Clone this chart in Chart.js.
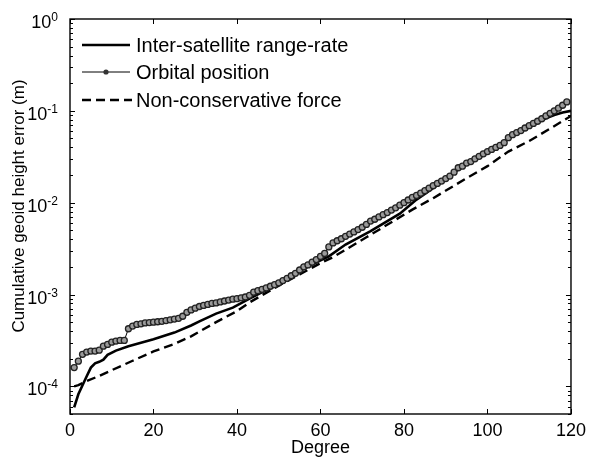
<!DOCTYPE html>
<html>
<head>
<meta charset="utf-8">
<script src="https://cdn.jsdelivr.net/npm/chart.js@4.4.1/dist/chart.umd.min.js"></script>
<style>
html, body { margin: 0; padding: 0; background: #fff; }
</style>
</head>
<body>
<canvas id="chart1" width="592" height="459"></canvas>
<script>
// orbital position, one value per degree starting at 1
var orbitValues = [
    1.6e-4, 1.88e-4, 2.23e-4, 2.36e-4, 2.42e-4, 2.42e-4, 2.48e-4, 2.74e-4, 2.86e-4, 3.03e-4,
    3.11e-4, 3.16e-4, 3.16e-4, 4.24e-4, 4.53e-4, 4.72e-4, 4.8e-4, 4.9e-4, 4.95e-4, 5.0e-4,
    5.05e-4, 5.1e-4, 5.2e-4, 5.3e-4, 5.4e-4, 5.5e-4, 5.8e-4, 6.4e-4, 6.8e-4, 7.1e-4,
    7.4e-4, 7.6e-4, 7.8e-4, 8.0e-4, 8.1e-4, 8.3e-4, 8.5e-4, 8.7e-4, 8.9e-4, 9.0e-4,
    9.2e-4, 9.4e-4, 9.8e-4, 1.06e-3, 1.1e-3, 1.14e-3, 1.18e-3, 1.23e-3, 1.28e-3, 1.34e-3,
    1.42e-3, 1.5e-3, 1.6e-3, 1.7e-3, 1.85e-3, 2.0e-3, 2.1e-3, 2.25e-3, 2.4e-3, 2.6e-3,
    2.8e-3, 3.3e-3, 3.65e-3, 3.85e-3, 4.05e-3, 4.3e-3, 4.55e-3, 4.8e-3, 5.1e-3, 5.4e-3,
    5.8e-3, 6.3e-3, 6.6e-3, 7.0e-3, 7.4e-3, 7.8e-3, 8.3e-3, 8.8e-3, 9.4e-3, 1.0e-2,
    1.07e-2, 1.14e-2, 1.2e-2, 1.27e-2, 1.35e-2, 1.44e-2, 1.53e-2, 1.62e-2, 1.72e-2, 1.83e-2,
    1.95e-2, 2.15e-2, 2.4e-2, 2.5e-2, 2.7e-2, 2.8e-2, 3.0e-2, 3.2e-2, 3.4e-2, 3.6e-2,
    3.8e-2, 4.0e-2, 4.2e-2, 4.5e-2, 5.1e-2, 5.5e-2, 5.8e-2, 6.1e-2, 6.5e-2, 6.9e-2,
    7.3e-2, 7.7e-2, 8.2e-2, 8.8e-2, 9.4e-2, 0.1, 0.107, 0.115, 0.125
];

var rangeRateDeg = [1, 2, 3, 4, 5, 6, 7, 8, 9, 11, 14, 20, 25, 29, 31, 35, 39, 43, 47, 50,
    55, 60, 62, 66, 72, 79, 83, 88, 93, 100, 106, 110, 114, 116, 118, 120];
var rangeRateValues = [5.9e-5, 8.2e-5, 1.03e-4, 1.29e-4, 1.6e-4, 1.78e-4, 1.85e-4, 1.95e-4, 2.2e-4, 2.45e-4,
    2.74e-4, 3.25e-4, 3.85e-4, 4.6e-4, 5.1e-4, 6.2e-4, 7.2e-4, 9.0e-4, 1.12e-3, 1.3e-3,
    1.8e-3, 2.35e-3, 2.6e-3, 3.5e-3, 4.9e-3, 7.6e-3, 1.08e-2, 1.55e-2, 2.3e-2, 3.5e-2,
    5.3e-2, 6.8e-2, 8.3e-2, 9.0e-2, 9.6e-2, 0.1];

var forceDeg = [1, 2, 4, 7, 10, 15, 20, 25, 29, 35, 40, 43, 50, 55, 60, 63, 71, 82, 87, 95,
    100, 105, 110, 115, 120];
var forceValues = [1.0e-4, 1.03e-4, 1.14e-4, 1.3e-4, 1.5e-4, 1.9e-4, 2.4e-4, 2.9e-4, 3.5e-4, 5.0e-4,
    6.6e-4, 8.2e-4, 1.25e-3, 1.65e-3, 2.2e-3, 2.55e-3, 4.2e-3, 8.4e-3, 1.12e-2, 1.85e-2,
    2.5e-2, 3.6e-2, 4.7e-2, 6.4e-2, 8.8e-2];

var seriesNames = ["Inter-satellite range-rate", "Orbital position", "Non-conservative force"];
var xTicks = [0, 20, 40, 60, 80, 100, 120];
var yExponents = [0, -1, -2, -3, -4];
var xTitle = "Degree";
var yTitle = "Cumulative geoid height error (m)";

var FONT = "'Liberation Sans', Arial, Helvetica, sans-serif";

function toPoints(xs, ys){
    var pts = new Array();
    for (var i = 0; i < ys.length; i++){
        pts.push({x: xs[i], y: ys[i]});
    }
    return pts;
}

var orbitDeg = new Array();
for (var i = 0; i < orbitValues.length; i++){
    orbitDeg.push(i + 1);
}

// MATLAB look: boxed axes, inward ticks, superscript log labels, plain legend
var matlabAxes = {
    id: 'matlabAxes',
    afterDraw: function(chart){
        var ctx = chart.ctx;
        var a = chart.chartArea;
        var xs = chart.scales.x;
        var ys = chart.scales.y;
        ctx.save();

        ctx.strokeStyle = '#000';
        ctx.lineWidth = 1;
        ctx.beginPath();
        for (var i = 0; i < xTicks.length; i++){
            var px = Math.round(xs.getPixelForValue(xTicks[i])) + 0.5;
            ctx.moveTo(px, a.bottom); ctx.lineTo(px, a.bottom - 5);
            ctx.moveTo(px, a.top); ctx.lineTo(px, a.top + 5);
        }
        for (var d = -5; d <= 0; d++){
            for (var k = 1; k <= 9; k++){
                var v = k * Math.pow(10, d);
                if (v < ys.min * 0.999 || v > ys.max * 1.001) continue;
                var len = (k == 1) ? 5 : 3;
                var py = Math.round(ys.getPixelForValue(v)) + 0.5;
                ctx.moveTo(a.left, py); ctx.lineTo(a.left + len, py);
                ctx.moveTo(a.right, py); ctx.lineTo(a.right - len, py);
            }
        }
        ctx.stroke();

        ctx.lineWidth = 1.4;
        ctx.strokeRect(a.left, a.top, a.right - a.left, a.bottom - a.top);

        // y tick labels 10^n
        ctx.fillStyle = '#000';
        ctx.textBaseline = 'alphabetic';
        for (var j = 0; j < yExponents.length; j++){
            var yp = ys.getPixelForValue(Math.pow(10, yExponents[j]));
            var ex = String(yExponents[j]);
            ctx.font = '12px ' + FONT;
            ctx.textAlign = 'right';
            var ew = ctx.measureText(ex).width;
            ctx.fillText(ex, 58, yp + 2);
            ctx.font = '18px ' + FONT;
            ctx.fillText('10', 58 - ew, yp + 9);
        }

        // y title
        ctx.save();
        ctx.translate(19, 206);
        ctx.rotate(-Math.PI / 2);
        ctx.textAlign = 'center';
        ctx.textBaseline = 'middle';
        ctx.font = '17px ' + FONT;
        ctx.fillText(yTitle, 0, 0);
        ctx.restore();

        // legend
        var rows = [45, 72, 100];
        var x0 = 82, x1 = 130;
        ctx.strokeStyle = '#000';
        ctx.lineWidth = 2.6;
        ctx.setLineDash([]);
        ctx.beginPath(); ctx.moveTo(x0, rows[0]); ctx.lineTo(x1, rows[0]); ctx.stroke();
        ctx.lineWidth = 1;
        ctx.beginPath(); ctx.moveTo(x0, rows[1]); ctx.lineTo(x1, rows[1]); ctx.stroke();
        ctx.fillStyle = '#333';
        ctx.beginPath(); ctx.arc((x0 + x1) / 2, rows[1], 2.6, 0, Math.PI * 2); ctx.fill();
        ctx.lineWidth = 2.4;
        ctx.setLineDash([9, 5]);
        ctx.beginPath(); ctx.moveTo(x0, rows[2]); ctx.lineTo(x1 + 2, rows[2]); ctx.stroke();
        ctx.setLineDash([]);
        ctx.fillStyle = '#000';
        ctx.font = '20px ' + FONT;
        ctx.textAlign = 'left';
        ctx.textBaseline = 'middle';
        for (var r = 0; r < seriesNames.length; r++){
            ctx.fillText(seriesNames[r], 136, rows[r] + 1);
        }
        ctx.restore();
    }
};

var ctx = document.getElementById('chart1').getContext('2d');
var chart1 = new Chart(ctx, {
    type: 'line',
    data: {
        datasets: [{
            label: seriesNames[1],
            data: toPoints(orbitDeg, orbitValues),
            borderColor: '#000',
            borderWidth: 1,
            pointRadius: 3,
            pointBorderWidth: 1.3,
            pointBorderColor: '#222',
            pointBackgroundColor: '#9a9a9a',
            tension: 0,
            order: 0
        }, {
            label: seriesNames[0],
            data: toPoints(rangeRateDeg, rangeRateValues),
            borderColor: '#000',
            borderWidth: 2.6,
            pointRadius: 0,
            tension: 0,
            order: 1
        }, {
            label: seriesNames[2],
            data: toPoints(forceDeg, forceValues),
            borderColor: '#000',
            borderWidth: 2.4,
            borderDash: [9, 5],
            pointRadius: 0,
            tension: 0,
            order: 2
        }]
    },
    options: {
        responsive: false,
        animation: false,
        events: [],
        layout: { padding: { top: 19, right: 18, left: 0, bottom: 0 } },
        plugins: {
            legend: { display: false },
            tooltip: { enabled: false }
        },
        scales: {
            x: {
                type: 'linear',
                min: 0,
                max: 120,
                grid: { display: false, drawTicks: false },
                border: { display: false },
                ticks: {
                    stepSize: 20,
                    padding: 6,
                    color: '#000',
                    maxRotation: 0,
                    font: { family: FONT, size: 18 }
                },
                title: {
                    display: true,
                    text: xTitle,
                    color: '#000',
                    padding: { top: 0, bottom: 0 },
                    font: { family: FONT, size: 18 }
                },
                afterFit: function(scale){ scale.height = 45; }
            },
            y: {
                type: 'logarithmic',
                min: 5e-5,
                max: 1,
                grid: { display: false, drawTicks: false },
                border: { display: false },
                ticks: { display: false },
                afterFit: function(scale){ scale.width = 70; }
            }
        }
    },
    plugins: [matlabAxes]
});
</script>
</body>
</html>
